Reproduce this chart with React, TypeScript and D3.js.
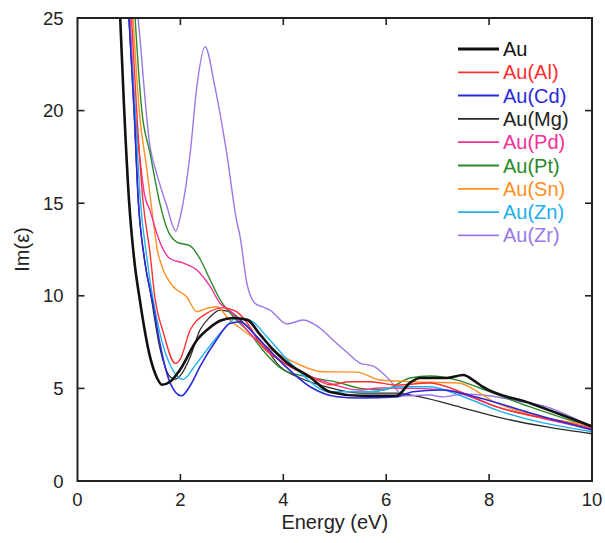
import React from "react";
import * as d3 from "d3";

const xTicks = [0, 2, 4, 6, 8, 10];
const yTicks = [0, 5, 10, 15, 20, 25];

const seriesNames = ["Au", "Au(Al)", "Au(Cd)", "Au(Mg)", "Au(Pd)", "Au(Pt)", "Au(Sn)", "Au(Zn)", "Au(Zr)"];

const au: [number, number][] = [[0.78, 28], [0.83, 25], [0.9, 20.5], [1.0, 15.2], [1.1, 12], [1.21, 9.8], [1.41, 6.7], [1.54, 5.6], [1.64, 5.2], [1.8, 5.36], [1.99, 6.0], [2.32, 7.6], [2.58, 8.3], [2.77, 8.65], [3.03, 8.8], [3.3, 8.7], [3.55, 7.9], [3.8, 7.1], [4.07, 6.4], [4.52, 5.6], [4.91, 4.8], [5.5, 4.6], [6.2, 4.6], [6.46, 5.3], [6.66, 5.56], [7.17, 5.56], [7.5, 5.72], [7.69, 5.45], [7.88, 5.08], [8.8, 4.2], [10, 2.95]];
const auAl: [number, number][] = [[0.98, 28], [1.05, 25], [1.15, 20], [1.27, 15.2], [1.41, 12.3], [1.5, 10], [1.67, 8.0], [1.9, 6.35], [2.0, 6.6], [2.19, 8.15], [2.51, 9.05], [2.83, 9.35], [3.09, 9.14], [3.35, 8.33], [3.55, 7.4], [4.0, 6.4], [4.5, 5.7], [4.91, 5.2], [5.3, 5.36], [5.69, 5.36], [6.2, 5.18], [6.85, 5.29], [7.5, 4.75], [8.15, 4.0], [9.45, 3.2], [10, 2.85]];
const auCd: [number, number][] = [[0.94, 28], [1.0, 25], [1.1, 20], [1.18, 15.2], [1.3, 12], [1.47, 9.5], [1.6, 7.45], [1.8, 5.3], [2.02, 4.6], [2.2, 5.2], [2.38, 6.17], [2.7, 7.61], [2.96, 8.51], [3.16, 8.6], [3.48, 7.79], [4.0, 6.3], [4.52, 5.09], [5.04, 4.55], [5.49, 4.48], [6.2, 4.54], [6.52, 4.82], [7.05, 4.91], [7.82, 4.48], [8.8, 3.67], [10, 2.75]];
const auMg: [number, number][] = [[0.94, 28], [1.0, 25], [1.1, 20], [1.18, 15.2], [1.3, 12], [1.41, 10.3], [1.6, 7.2], [1.8, 5.63], [1.9, 5.5], [2.0, 5.7], [2.19, 6.7], [2.38, 8.15], [2.58, 8.87], [2.77, 9.23], [2.96, 9.14], [3.2, 8.6], [3.55, 7.6], [3.94, 6.17], [4.33, 5.56], [4.84, 5.08], [5.49, 4.75], [6.2, 4.75], [6.66, 4.54], [7.5, 3.94], [8.15, 3.46], [9.12, 2.92], [10, 2.55]];
const auPd: [number, number][] = [[0.96, 28], [1.02, 25], [1.12, 20], [1.21, 17.5], [1.3, 15.5], [1.41, 14.6], [1.55, 13.3], [1.64, 12.65], [1.8, 12.0], [2.06, 11.77], [2.32, 11.39], [2.58, 10.49], [2.77, 9.6], [2.96, 9.2], [3.35, 7.98], [4.13, 6.17], [4.77, 5.4], [5.49, 4.91], [5.88, 5.02], [6.52, 5.0], [7.17, 4.91], [8.15, 4.0], [9.45, 3.13], [10, 2.8]];
const auPt: [number, number][] = [[1.06, 28], [1.12, 25], [1.25, 20], [1.41, 17.7], [1.6, 15], [1.73, 13.7], [1.93, 12.9], [2.19, 12.7], [2.38, 12.0], [2.58, 10.85], [2.77, 9.8], [3.03, 8.87], [3.35, 7.98], [3.6, 7.07], [4.0, 6.0], [4.46, 5.63], [5.1, 5.3], [5.5, 5.0], [5.94, 4.91], [6.46, 5.56], [6.85, 5.67], [7.38, 5.45], [7.82, 5.02], [8.8, 4.0], [10, 2.9]];
const auSn: [number, number][] = [[1.02, 28], [1.08, 25], [1.2, 20], [1.35, 16.8], [1.47, 14.1], [1.55, 12.5], [1.64, 11.6], [1.86, 10.5], [2.12, 9.95], [2.32, 9.14], [2.51, 9.32], [2.7, 9.41], [2.96, 8.69], [3.16, 8.26], [3.48, 7.61], [4.13, 6.53], [4.77, 5.9], [5.43, 5.88], [5.88, 5.45], [6.52, 5.36], [7.38, 5.29], [8.15, 4.21], [10, 3.0]];
const auZn: [number, number][] = [[0.94, 28], [1.0, 25], [1.12, 20], [1.22, 15.2], [1.35, 12], [1.6, 8.0], [1.85, 6.0], [2.06, 5.49], [2.25, 6.1], [2.51, 7.07], [2.83, 8.15], [3.09, 8.78], [3.35, 8.69], [3.68, 7.79], [4.2, 6.2], [4.91, 4.82], [5.75, 4.82], [6.2, 5.09], [6.85, 5.09], [7.5, 4.55], [8.15, 3.83], [10, 2.66]];
const auZr: [number, number][] = [[1.1, 27], [1.18, 24.9], [1.41, 18.05], [1.54, 16.6], [1.73, 14.9], [1.91, 13.5], [2.0, 14.3], [2.19, 17.7], [2.32, 21.3], [2.48, 23.45], [2.67, 21.3], [2.9, 17.7], [3.09, 14.1], [3.16, 13.2], [3.29, 10.7], [3.45, 9.6], [3.6, 9.4], [3.74, 9.23], [4.07, 8.48], [4.39, 8.69], [4.71, 8.26], [4.97, 7.6], [5.23, 6.97], [5.49, 6.37], [5.75, 6.2], [6.07, 5.45], [6.33, 4.6], [6.85, 4.64], [7.1, 4.54], [7.5, 4.7], [8.0, 4.6], [8.5, 4.35], [9.12, 4.0], [10, 2.9]];

const seriesData = [au, auAl, auCd, auMg, auPd, auPt, auSn, auZn, auZr];
const seriesColors = ["#111111", "#ff3030", "#2a2ad8", "#2a2a2a", "#f4309a", "#2a8a2a", "#ff9024", "#22b0ee", "#9a78e8"];
const seriesWidths = [2.6, 1.4, 1.6, 1.3, 1.4, 1.4, 1.4, 1.4, 1.4];
const drawOrder = [3, 8, 5, 6, 4, 1, 7, 2, 0];

export default function App() {
  const W = 605, H = 543;
  const L = 77.5, R = 592, T = 18, B = 481;
  const x = d3.scaleLinear().domain([0, 10]).range([L, R]);
  const y = d3.scaleLinear().domain([0, 25]).range([B, T]);
  const line = d3.line<[number, number]>().x(d => x(d[0])).y(d => y(d[1])).curve(d3.curveMonotoneX);
  const font = "'Liberation Sans', Arial, Helvetica, sans-serif";
  const tick = 7;
  const axisColor = "#222";
  return (
    <svg width={W} height={H} style={{ position: "absolute", left: 0, top: 0, background: "#fff" }} fontFamily={font}>
      <defs>
        <clipPath id="plotClip">
          <rect x={L} y={T} width={R - L} height={B - T} />
        </clipPath>
      </defs>
      <g clipPath="url(#plotClip)" fill="none" strokeLinejoin="round" strokeLinecap="round">
        {drawOrder.map(i => (
          <path key={i} d={line(seriesData[i]) || ""} stroke={seriesColors[i]} strokeWidth={seriesWidths[i]} />
        ))}
      </g>
      <rect x={L} y={T} width={R - L} height={B - T} fill="none" stroke={axisColor} strokeWidth={2} />
      {xTicks.map(t => (
        <g key={"x" + t}>
          {t > 0 && t < 10 && <line x1={x(t)} x2={x(t)} y1={B} y2={B - tick} stroke={axisColor} strokeWidth={1.6} />}
          {t > 0 && t < 10 && <line x1={x(t)} x2={x(t)} y1={T} y2={T + tick} stroke={axisColor} strokeWidth={1.6} />}
          <text x={x(t)} y={B + 25} textAnchor="middle" fontSize={18.5} fill="#222">{t}</text>
        </g>
      ))}
      {yTicks.map(t => (
        <g key={"y" + t}>
          {t > 0 && t < 25 && <line x1={L} x2={L + tick} y1={y(t)} y2={y(t)} stroke={axisColor} strokeWidth={1.6} />}
          {t > 0 && t < 25 && <line x1={R} x2={R - tick} y1={y(t)} y2={y(t)} stroke={axisColor} strokeWidth={1.6} />}
          <text x={L - 14} y={y(t) + 6.5} textAnchor="end" fontSize={18.5} fill="#222">{t}</text>
        </g>
      ))}
      <text x={(L + R) / 2} y={529} textAnchor="middle" fontSize={20} fill="#222">Energy (eV)</text>
      <text transform={`translate(29, ${(T + B) / 2}) rotate(-90)`} textAnchor="middle" fontSize={20} fill="#222">Im(ε)</text>
      <g>
        {seriesNames.map((n, i) => {
          const ly = 49 + i * 23.3;
          return (
            <g key={n}>
              <line x1={458} x2={499} y1={ly} y2={ly} stroke={seriesColors[i]} strokeWidth={seriesWidths[i] + 0.4} />
              <text x={503} y={ly + 7} fontSize={20} fill={i === 3 ? "#222" : seriesColors[i]}>{n}</text>
            </g>
          );
        })}
      </g>
    </svg>
  );
}
